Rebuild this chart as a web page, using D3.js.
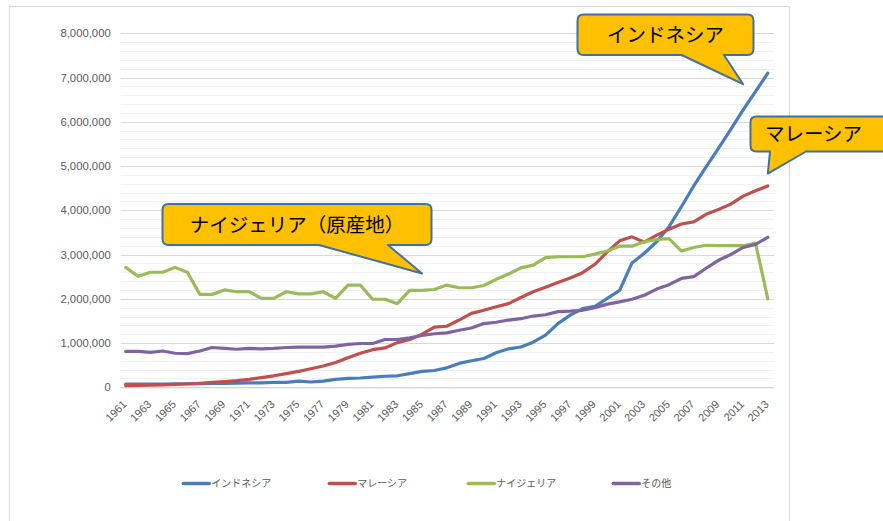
<!DOCTYPE html>
<html>
<head>
<meta charset="utf-8">
<script src="https://cdn.jsdelivr.net/npm/d3@7"></script>
<style>
  body { margin: 0; background: #fff; }
  text { font-family: "Liberation Sans", Arial, sans-serif; }
  .jp { font-family: "Noto Sans CJK JP", sans-serif; }
</style>
</head>
<body>
<svg id="chart" width="883" height="521"></svg>
<script>
// production, million tonnes
const years = d3.range(1961, 2014).map(String);

const seriesNames = ["インドネシア", "マレーシア", "ナイジェリア", "その他"];
const seriesColors = ["#4A7EBB", "#C0504D", "#9BBB59", "#8064A2"];

const indonesia = [
  0.07, 0.07, 0.075, 0.075, 0.08, 0.08, 0.085, 0.09, 0.09, 0.095,
  0.10, 0.10, 0.11, 0.11, 0.14, 0.12, 0.14, 0.18, 0.20, 0.21,
  0.23, 0.25, 0.26, 0.31, 0.36, 0.38, 0.44, 0.54, 0.60, 0.65,
  0.78, 0.87, 0.91, 1.02, 1.18, 1.44, 1.63, 1.78, 1.83, 2.01,
  2.19, 2.81, 3.03, 3.29, 3.63, 4.08, 4.55, 4.98, 5.40, 5.83,
  6.27, 6.68, 7.10
];
const malaysia = [
  0.04, 0.045, 0.05, 0.055, 0.065, 0.075, 0.09, 0.11, 0.13, 0.15,
  0.18, 0.22, 0.26, 0.31, 0.36, 0.42, 0.48, 0.56, 0.67, 0.77,
  0.85, 0.89, 1.01, 1.08, 1.20, 1.36, 1.38, 1.52, 1.67, 1.74,
  1.82, 1.89, 2.03, 2.16, 2.26, 2.37, 2.47, 2.59, 2.78, 3.06,
  3.31, 3.40, 3.28, 3.44, 3.57, 3.69, 3.74, 3.91, 4.02, 4.14,
  4.32, 4.44, 4.55
];
const nigeria = [
  2.71, 2.51, 2.60, 2.60, 2.71, 2.60, 2.10, 2.10, 2.20, 2.16,
  2.16, 2.01, 2.01, 2.16, 2.11, 2.11, 2.16, 2.01, 2.31, 2.31,
  1.99, 1.99, 1.89, 2.19, 2.19, 2.21, 2.31, 2.25, 2.25, 2.30,
  2.44, 2.56, 2.70, 2.76, 2.93, 2.95, 2.95, 2.95, 3.01, 3.08,
  3.19, 3.19, 3.29, 3.34, 3.36, 3.08, 3.16, 3.21, 3.20, 3.20,
  3.20, 3.26, 2.00
];
const others = [
  0.81, 0.81, 0.79, 0.82, 0.77, 0.76, 0.82, 0.90, 0.88, 0.86,
  0.88, 0.87, 0.88, 0.90, 0.91, 0.91, 0.91, 0.93, 0.97, 0.99,
  0.99, 1.08, 1.08, 1.12, 1.17, 1.21, 1.23, 1.29, 1.34, 1.44,
  1.47, 1.52, 1.55, 1.61, 1.64, 1.71, 1.72, 1.74, 1.80, 1.88,
  1.93, 1.99, 2.08, 2.22, 2.32, 2.46, 2.50, 2.69, 2.87, 3.00,
  3.16, 3.23, 3.39
];

const yTicks = [0, 1, 2, 3, 4, 5, 6, 7, 8];

// callout labels: text, the point the tail aims at (year, value)
const calloutTexts = ["インドネシア", "マレーシア", "ナイジェリア（原産地）"];
const calloutYears = ["2011", "2013", "1985"];
const calloutValues = [6.85, 4.83, 2.57];

var svg = d3.select("#chart");
var plotLeft = 120.7, plotRight = 774, plotTop = 33.3, plotBottom = 387.3;

// outer chart frame
svg.append("rect")
  .attr("x", 9.5).attr("y", 6.5)
  .attr("width", 780).attr("height", 530)
  .attr("fill", "#fff")
  .attr("stroke", "#d9d9d9");

var xScale = d3.scaleBand()
  .domain(years)
  .range([119.5, plotRight]);

var yScale = d3.scaleLinear()
  .domain([0, 8])
  .range([plotBottom, plotTop]);

var xPos = function(year) {
  return xScale(year) + xScale.bandwidth() / 2;
};

// minor gridlines
svg.append("g")
  .selectAll("line")
  .data(d3.range(0.2, 8, 0.2).filter(function(d) {
    return Math.abs(d - Math.round(d)) > 0.01;
  }))
  .enter().append("line")
  .attr("x1", plotLeft).attr("x2", plotRight)
  .attr("y1", function(d) { return Math.round(yScale(d)) + 0.5; })
  .attr("y2", function(d) { return Math.round(yScale(d)) + 0.5; })
  .attr("stroke", "#f0f0f0");

// major gridlines
svg.append("g")
  .selectAll("line")
  .data(yTicks)
  .enter().append("line")
  .attr("x1", plotLeft).attr("x2", plotRight)
  .attr("y1", function(d) { return Math.round(yScale(d)) + 0.5; })
  .attr("y2", function(d) { return Math.round(yScale(d)) + 0.5; })
  .attr("stroke", "#d9d9d9");

// y axis labels
var yAxis = svg.append("g")
  .attr("transform", "translate(" + plotLeft + ",0)")
  .call(d3.axisLeft(yScale)
    .tickValues(yTicks)
    .tickSize(0)
    .tickPadding(10)
    .tickFormat(function(d) { return d3.format(",")(d * 1000000); }));
yAxis.select(".domain").remove();
yAxis.selectAll("text")
  .attr("fill", "#595959")
  .style("font-size", "11.3px")
  .style("font-family", "'Liberation Sans', Arial, sans-serif");

// x axis
var xAxis = svg.append("g")
  .attr("transform", "translate(0," + plotBottom + ")")
  .call(d3.axisBottom(xScale)
    .tickValues(years.filter(function(d, i) { return i % 2 == 0; }))
    .tickSize(0));
xAxis.select(".domain")
  .attr("stroke", "#d0d0d0")
  .attr("d", "M" + plotLeft + ",0.5H" + plotRight);
xAxis.selectAll("text")
  .attr("fill", "#595959")
  .style("font-size", "11px")
  .style("font-family", "'Liberation Sans', Arial, sans-serif")
  .style("text-anchor", "end")
  .attr("x", 0)
  .attr("y", 0)
  .attr("dy", "0.35em")
  .attr("transform", "translate(-1,15) rotate(-45)");

// lines
var allSeries = [indonesia, malaysia, nigeria, others];
var line = d3.line()
  .x(function(d, i) { return xPos(years[i]); })
  .y(function(d) { return yScale(d); });

svg.append("g")
  .selectAll("path")
  .data(allSeries)
  .enter().append("path")
  .attr("d", line)
  .attr("fill", "none")
  .attr("stroke", function(d, i) { return seriesColors[i]; })
  .attr("stroke-width", 3.2)
  .attr("stroke-linejoin", "round")
  .attr("stroke-linecap", "round");

// legend
var legendX = [183.3, 329.3, 468.3, 613.3];
var legend = svg.append("g")
  .selectAll("g")
  .data(seriesNames)
  .enter().append("g")
  .attr("transform", function(d, i) { return "translate(" + legendX[i] + ",483.5)"; });
legend.append("line")
  .attr("x1", 0).attr("x2", 26)
  .attr("stroke", function(d, i) { return seriesColors[i]; })
  .attr("stroke-width", 3.5)
  .attr("stroke-linecap", "round");
legend.append("text")
  .attr("class", "jp")
  .attr("x", 28)
  .attr("dy", "0.36em")
  .attr("fill", "#595959")
  .style("font-size", "10px")
  .text(function(d) { return d; });

// callouts
var boxes = [
  { x: 577.5, y: 14.5, w: 176, h: 40.5, b1: 681.5, b2: 724 },
  { x: 750.5, y: 116.5, w: 145, h: 35, b1: 770, b2: 806 },
  { x: 162.5, y: 204, w: 269, h: 41, b1: 319, b2: 388 }
];

function calloutPath(b, tx, ty) {
  var r = 6, x = b.x, y = b.y, w = b.w, h = b.h;
  return "M" + (x + r) + "," + y +
    "H" + (x + w - r) + "Q" + (x + w) + "," + y + " " + (x + w) + "," + (y + r) +
    "V" + (y + h - r) + "Q" + (x + w) + "," + (y + h) + " " + (x + w - r) + "," + (y + h) +
    "H" + b.b2 + "L" + tx + "," + ty + "L" + b.b1 + "," + (y + h) +
    "H" + (x + r) + "Q" + x + "," + (y + h) + " " + x + "," + (y + h - r) +
    "V" + (y + r) + "Q" + x + "," + y + " " + (x + r) + "," + y + "Z";
}

var callouts = svg.append("g")
  .selectAll("g")
  .data(calloutTexts)
  .enter().append("g");
callouts.append("path")
  .attr("d", function(d, i) {
    return calloutPath(boxes[i], xPos(calloutYears[i]), yScale(calloutValues[i]));
  })
  .attr("fill", "#FFC000")
  .attr("stroke", "#41719C")
  .attr("stroke-width", 2)
  .attr("stroke-linejoin", "round");
callouts.append("text")
  .attr("class", "jp")
  .attr("x", function(d, i) { return i == 1 ? 765 : boxes[i].x + boxes[i].w / 2; })
  .attr("y", function(d, i) { return boxes[i].y + boxes[i].h / 2; })
  .attr("dy", "0.36em")
  .attr("text-anchor", function(d, i) { return i == 1 ? "start" : "middle"; })
  .attr("fill", "#000")
  .style("font-size", "19.5px")
  .text(function(d) { return d; });
</script>
</body>
</html>
